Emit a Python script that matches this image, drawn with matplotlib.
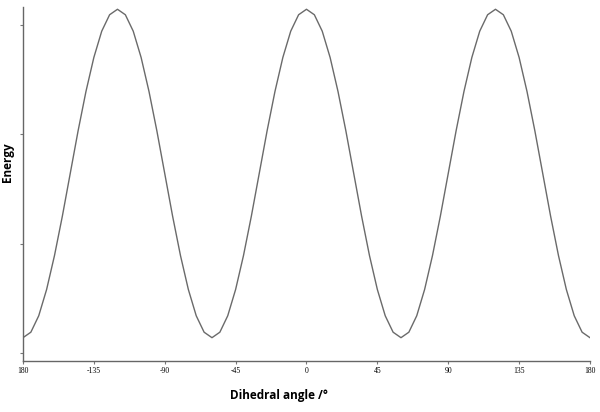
import numpy as np
import matplotlib.pyplot as plt

# dihedral angle in 5 degree steps, energy (arbitrary units)
angle = np.arange(-180, 181, 5)
energy = [
    0.14, 0.19, 0.34, 0.58, 0.89, 1.25, 1.64, 2.03, 2.39, 2.70, 2.94, 3.09, 3.14,
    3.09, 2.94, 2.70, 2.39, 2.03, 1.64, 1.25, 0.89, 0.58, 0.34, 0.19, 0.14,
    0.19, 0.34, 0.58, 0.89, 1.25, 1.64, 2.03, 2.39, 2.70, 2.94, 3.09, 3.14,
    3.09, 2.94, 2.70, 2.39, 2.03, 1.64, 1.25, 0.89, 0.58, 0.34, 0.19, 0.14,
    0.19, 0.34, 0.58, 0.89, 1.25, 1.64, 2.03, 2.39, 2.70, 2.94, 3.09, 3.14,
    3.09, 2.94, 2.70, 2.39, 2.03, 1.64, 1.25, 0.89, 0.58, 0.34, 0.19, 0.14,
]
xticks = [-180, -135, -90, -45, 0, 45, 90, 135, 180]
xticklabels = ['180', '-135', '-90', '-45', '0', '45', '90', '135', '180']
yticks = [0, 1, 2, 3]

fig = plt.figure(figsize=(6, 4.12), dpi=100)
ax = fig.add_axes([0.0383, 0.1238, 0.945, 0.859])

ax.plot(angle, energy, color='#6a6a6a', linewidth=1.0)

ax.set_xlim(-180, 180)
ax.set_ylim(-0.073, 3.16)
ax.set_xticks(xticks)
ax.set_xticklabels(xticklabels, fontsize=5.5, family='Liberation Serif')
ax.set_yticks(yticks)
ax.set_yticklabels([])
ax.tick_params(axis='both', length=2.5, width=0.8, color='#777777', pad=2)

for s in ['top', 'right']:
    ax.spines[s].set_visible(False)
for s in ['left', 'bottom']:
    ax.spines[s].set_color('#666666')
    ax.spines[s].set_linewidth(1.0)

fig.text(0.4650, 0.041, 'Dihedral angle /°', ha='center', va='center',
         fontsize=8.5, fontweight='bold', family=['Open Sans', 'DejaVu Sans'])
fig.text(0.0117, 0.607, 'Energy', ha='center', va='center', rotation=90,
         fontsize=8.5, fontweight='bold', family=['Open Sans', 'DejaVu Sans'])

fig.savefig('out.png', dpi=100)
